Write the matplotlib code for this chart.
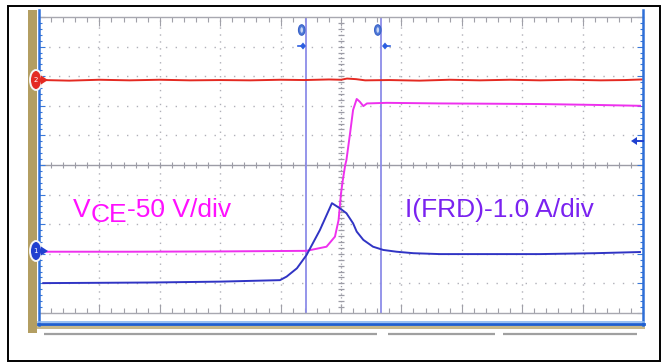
import numpy as np
import matplotlib
matplotlib.use("Agg")
import matplotlib.pyplot as plt
from matplotlib.patches import Rectangle, Ellipse, Polygon

# ---------------- data (screen divisions: x 0..10, y -5..5) ----------------
red_x = [0.07, 0.5, 1.0, 1.5, 2.0, 2.5, 3.0, 3.5, 4.0, 4.4, 4.8, 5.0, 5.1, 5.25, 5.4, 5.8,
         6.3, 6.8, 7.3, 7.8, 8.3, 8.8, 9.3, 9.7, 9.98]
red_y = [2.87, 2.85, 2.88, 2.86, 2.88, 2.86, 2.87, 2.86, 2.88, 2.87, 2.89, 2.88, 2.92, 2.90,
         2.86, 2.87, 2.85, 2.88, 2.86, 2.88, 2.86, 2.88, 2.86, 2.87, 2.89]

vce_x = [0.07, 1.5, 3.0, 4.43, 4.76, 4.90, 4.96, 5.00, 5.03, 5.07, 5.09, 5.15, 5.20, 5.26,
         5.31, 5.37, 5.43, 5.76, 6.64, 7.5, 8.29, 9.2, 9.95]
vce_y = [-2.93, -2.93, -2.92, -2.90, -2.76, -2.42, -1.86, -0.96, -0.51, 0.00, 0.17, 1.07,
         1.86, 2.23, 2.14, 1.99, 2.08, 2.10, 2.08, 2.07, 2.06, 2.03, 2.00]

ifrd_x = [0.07, 1.0, 1.84, 3.00, 3.99, 4.10, 4.27, 4.43, 4.65, 4.85, 4.98, 5.09, 5.20, 5.26,
          5.37, 5.53, 5.70, 5.92, 6.20, 6.64, 7.5, 8.29, 9.2, 9.95]
ifrd_y = [-3.99, -3.98, -3.97, -3.94, -3.89, -3.77, -3.49, -3.04, -2.20, -1.29, -1.46, -1.63,
          -1.97, -2.25, -2.53, -2.76, -2.87, -2.93, -2.98, -3.01, -3.01, -3.01, -2.98, -2.94]

cursor_x = [4.42, 5.67]

label_vce = ["V", "CE", "-50 V/div"]
label_ifrd = "I(FRD)-1.0 A/div"

# ---------------- figure ----------------
W, H = 662, 363
fig = plt.figure(figsize=(W / 100, H / 100), dpi=100)
fig.patch.set_facecolor("white")

gx0, gx1, gy0, gy1 = 39, 643, 17, 313
ax = fig.add_axes([gx0 / W, 1 - gy1 / H, (gx1 - gx0) / W, (gy1 - gy0) / H])
ax.set_xlim(0, 10)
ax.set_ylim(-5, 5)
ax.set_facecolor("white")

grid_c = "#b0b0b8"
for s in ["top", "bottom"]:
    ax.spines[s].set_color("#a8a8b0")
    ax.spines[s].set_linewidth(1.0)
for s in ["left", "right"]:
    ax.spines[s].set_visible(False)

ax.set_xticks(np.arange(0, 10.01, 1))
ax.set_xticks(np.arange(0, 10.01, 0.2), minor=True)
ax.set_yticks(np.arange(-5, 5.01, 1))
ax.set_yticks(np.arange(-5, 5.01, 0.2), minor=True)
ax.tick_params(axis="x", which="both", direction="in", top=True, bottom=True,
               labelbottom=False, labeltop=False, color="#a0a0a8", width=0.8)
ax.tick_params(axis="x", which="major", length=6.5)
ax.tick_params(axis="x", which="minor", length=3.8)
ax.tick_params(axis="y", which="both", direction="in", left=True, right=True,
               labelleft=False, labelright=False, color="#3a78d8", width=0.8)
ax.tick_params(axis="y", which="major", length=4.0)
ax.tick_params(axis="y", which="minor", length=2.2)

for i in range(1, 10):
    if i != 5:
        ax.axvline(i, color=grid_c, lw=1.0, ls=(0, (1, 4)), zorder=1)
for j in range(-4, 5):
    if j != 0:
        ax.axhline(j, color=grid_c, lw=1.0, ls=(0, (1, 6)), zorder=1)

# center crosshair
ax.axhline(0, color="#9c9ca6", lw=1.0, zorder=1)
ax.plot(np.arange(0.2, 10, 0.2), np.zeros(49), ls="none", marker="|", ms=5,
        mew=0.8, color="#9c9ca6", zorder=1)
ax.axvline(5, color="#9c9ca6", lw=0.9, ls=(0, (1, 2)), zorder=1)
ax.plot(np.full(49, 5.0), np.arange(-4.8, 5, 0.2), ls="none", marker="_", ms=5,
        mew=0.9, color="#9c9ca6", zorder=1)

# cursors
for cx in cursor_x:
    ax.axvline(cx, color="#8c8ce8", lw=1.3, zorder=2)

# traces
ax.plot(red_x, red_y, color="#e42a22", lw=1.4, zorder=4)
ax.plot(vce_x, vce_y, color="#ee30ee", lw=1.4, zorder=4)
ax.plot(ifrd_x, ifrd_y, color="#3034c4", lw=1.4, zorder=5)

# ---------------- overlay (decoration in pixel space) ----------------
ov = fig.add_axes([0, 0, 1, 1])
ov.set_xlim(0, W)
ov.set_ylim(H, 0)
ov.axis("off")

# outer border
ov.add_patch(Rectangle((8, 6), 652, 355, fill=False, ec="black", lw=1.4))
# tan bar on the left and bottom
ov.add_patch(Rectangle((28, 10), 9, 323, fc="#b39e62", ec="none"))
ov.add_patch(Rectangle((37, 325), 608, 3.5, fc="#c8b88a", ec="none"))
# blue frame lines
ov.plot([38.5, 38.5], [10, 325], color="#2e6fd8", lw=1.8)
ov.plot([643, 643], [10, 325], color="#2e6fd8", lw=1.8)
ov.plot([38, 644], [321.5, 321.5], color="#8ab6f0", lw=1.2)
ov.plot([38, 644], [323.5, 323.5], color="#1f5fd0", lw=2.0)
# scroll bar segments
for a, b in [(44, 377), (388, 495), (503, 637)]:
    ov.plot([a, b], [333.5, 333.5], color="#a0a0a0", lw=1.6, solid_capstyle="butt")

# channel markers
for (cy, col, lab) in [(80, "#e42a22", "2"), (251, "#2040d0", "1")]:
    ov.add_patch(Ellipse((36, cy), 12, 20, fc=col, ec="#f4f4f4", lw=1.4, zorder=6))
    ov.text(35.5, cy, lab, color="white", fontsize=5, ha="center", va="center", zorder=7)
    ov.add_patch(Polygon([(41, cy - 4.5), (48, cy), (41, cy + 4.5)], closed=True,
                         fc=col, ec="none", zorder=6))

# cursor top markers
for mx, ax_, direction in [(301.7, 303, 1), (377.8, 385, -1)]:
    ov.add_patch(Ellipse((mx, 30), 6.5, 10.5, fc="#4f7ad8", ec="#3a62c8", lw=0.8, zorder=6))
    ov.add_patch(Ellipse((mx, 30), 2.6, 5.5, fc="#c9d6f4", ec="none", zorder=7))
    ov.add_patch(Polygon([(ax_ - 3, 46), (ax_, 42.5), (ax_ + 3, 46), (ax_, 49.5)], closed=True,
                         fc="#2c5ee0", ec="none", zorder=6))
    ov.plot([ax_, ax_ - 5 * direction], [46, 46], color="#2c5ee0", lw=1.2, zorder=6)

# trigger level arrow (right)
ov.add_patch(Polygon([(631, 141), (637, 137), (637, 145)], closed=True, fc="#2040d0", ec="none"))
ov.plot([636, 643], [141, 141], color="#2040d0", lw=1.4)

# labels
fs = 19
fam = ["Liberation Sans", "DejaVu Sans"]
t1 = ov.text(73, 217, label_vce[0], color="#ff10ff", fontsize=fs, family=fam, va="baseline")
t2 = ov.annotate(label_vce[1], xy=(1, 0), xycoords=t1, xytext=(0, -5),
                 textcoords="offset pixels", va="bottom", ha="left",
                 color="#ff10ff", fontsize=fs, family=fam)
ov.annotate(label_vce[2], xy=(1, 0), xycoords=t2, xytext=(0, 5),
            textcoords="offset pixels", va="bottom", ha="left",
            color="#ff10ff", fontsize=fs, family=fam)
ov.text(405, 217, label_ifrd, color="#7a22f0", fontsize=fs, family=fam, va="baseline")

fig.savefig("out.png", dpi=100)
